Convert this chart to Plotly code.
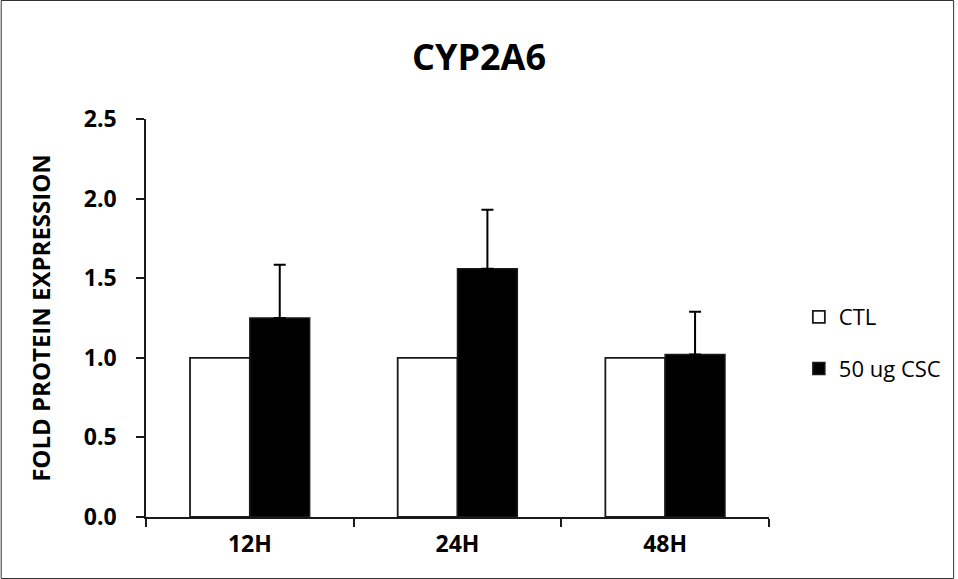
import plotly.graph_objects as go

categories = ["12H", "24H", "48H"]
ctl_values = [1.0, 1.0, 1.0]
csc_values = [1.25, 1.56, 1.02]
csc_errors = [0.335, 0.37, 0.27]
y_ticks = [0.0, 0.5, 1.0, 1.5, 2.0, 2.5]

FONT = "Open Sans"
W, H = 958, 579
L, R, T, B = 146, 186, 119, 62
pw, ph = W - L - R, H - T - B

fig = go.Figure()
fig.add_trace(go.Bar(
    x=categories, y=ctl_values, name="CTL",
    marker=dict(color="white", line=dict(color="#1a1a1a", width=1.8)),
    legendgroup="a",
))
fig.add_trace(go.Bar(
    x=categories, y=csc_values, name="50 ug CSC",
    marker=dict(color="black", line=dict(color="#1a1a1a", width=1.5)),
    error_y=dict(type="data", array=csc_errors, arrayminus=[0, 0, 0],
                 symmetric=False, color="black", thickness=2, width=6),
    legendgroup="b",
))

fig.update_layout(
    width=W, height=H,
    margin=dict(l=L, r=R, t=T, b=B),
    paper_bgcolor="white", plot_bgcolor="white",
    barmode="group", bargap=0.424, bargroupgap=0,
    title=dict(text="<b>CYP2A6</b>", x=0.5, xref="container", xanchor="center",
               y=1 - 57 / H, yref="container", yanchor="middle",
               font=dict(family=FONT, size=36, color="black")),
    font=dict(family=FONT, color="black"),
    legend=dict(x=(802 - L) / pw, y=1 - (296 - T) / ph, xanchor="left", yanchor="top",
                font=dict(size=22, color="black"), tracegroupgap=20,
                traceorder="grouped", itemwidth=30, bgcolor="rgba(0,0,0,0)"),
    showlegend=True,
)
fig.update_xaxes(
    showline=True, linecolor="#1a1a1a", linewidth=1.5,
    ticks="outside", tickson="boundaries", ticklen=8, tickcolor="#1a1a1a", tickwidth=1.5,
    tickfont=dict(family=FONT, size=23, color="black"),
    ticktext=["<b>%s</b>" % c for c in categories], tickvals=categories,
    ticklabelstandoff=6,
    showgrid=False, zeroline=False,
)
fig.update_yaxes(
    range=[0, 2.5], tickvals=y_ticks,
    ticktext=["<b>%.1f</b>" % v for v in y_ticks],
    showline=True, linecolor="#1a1a1a", linewidth=1.5,
    ticks="outside", ticklen=8, tickcolor="#1a1a1a", tickwidth=1.5,
    tickfont=dict(family=FONT, size=23, color="black"),
    ticklabelstandoff=15,
    title=dict(text="<b>FOLD PROTEIN EXPRESSION</b>", font=dict(family=FONT, size=24, color="black"),
               standoff=26),
    showgrid=False, zeroline=False,
)
# outer chart border
fig.add_shape(type="rect", xref="paper", yref="paper",
              x0=(0.5 - L) / pw, x1=(W - 0.5 - L) / pw,
              y0=-(B - 0.5) / ph, y1=1 + (T - 0.5) / ph,
              line=dict(color="#333333", width=1), fillcolor="rgba(0,0,0,0)", layer="below")

fig.write_html("out.html", config={"displayModeBar": False},
               post_script="document.body.style.margin='0px';")
